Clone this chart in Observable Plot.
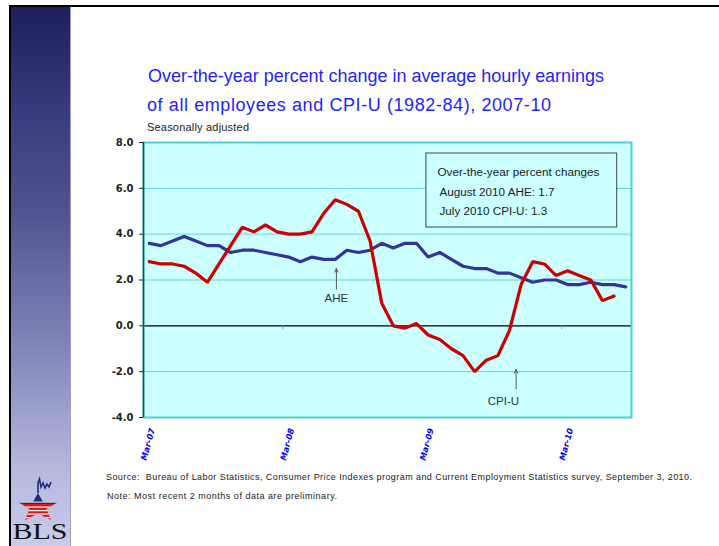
<!DOCTYPE html>
<html>
<head>
<meta charset="utf-8">
<script src="https://cdn.jsdelivr.net/npm/d3@7"></script>
<script src="https://cdn.jsdelivr.net/npm/@observablehq/plot@0.6"></script>
<style>
  html, body { margin: 0; padding: 0; }
  body { width: 719px; height: 546px; position: relative; overflow: hidden; background: #fff; }
  #topline { position: absolute; left: 9px; top: 5px; width: 710px; height: 2px; background: #000; }
  #leftline { position: absolute; left: 9px; top: 5px; width: 2px; height: 541px; background: #000; }
  #panel { position: absolute; left: 11px; top: 7px; width: 59px; height: 539px;
    background: linear-gradient(#1d1e5e 0%, #3a3d7d 20%, #50538f 38%, #8589bd 65%, #b3b7dc 85%, #c9cce9 100%); }
  #panelEdge { position: absolute; left: 70px; top: 7px; width: 1px; height: 539px; background: #9ea2cf; }
  #texts { position: absolute; left: 0; top: 0; }
  #chart { position: absolute; left: 80px; top: 130px; }
  #logo { position: absolute; left: 11px; top: 470px; }
</style>
</head>
<body>
<div id="topline"></div>
<div id="leftline"></div>
<div id="panel"></div>
<div id="panelEdge"></div>
<svg id="logo" width="60" height="76" viewBox="0 0 60 76">
  <defs>
    <clipPath id="starClip"><polygon points="27,23 32,32 47,32 35.5,39 40,50 27,43.5 14,50 18.5,39 7,32 22,32"/></clipPath>
  </defs>
  <g clip-path="url(#starClip)">
    <rect x="0" y="20" width="60" height="14" fill="#1f2a78"/>
    <rect x="0" y="34" width="60" height="20" fill="#d81818"/>
    <rect x="0" y="31.6" width="60" height="1" fill="#fff"/>
    <rect x="0" y="36.5" width="60" height="1.2" fill="#fff"/>
    <rect x="0" y="40" width="60" height="1.2" fill="#fff"/>
    <rect x="0" y="43.5" width="60" height="1.2" fill="#fff"/>
    <rect x="0" y="47" width="60" height="1.2" fill="#fff"/>
  </g>
  <polyline points="27,23 27,13 28.5,9 30,17 32,13 34,18 36,14 38,17 40,12" fill="none" stroke="#1f2a78" stroke-width="1.6"/>
  <text x="29" y="69" text-anchor="middle" font-family="Liberation Serif, DejaVu Serif, serif" font-size="24" fill="#111" textLength="55" lengthAdjust="spacingAndGlyphs">BLS</text>
</svg>
<svg id="texts" width="719" height="546">
  <text x="148" y="82" font-family="Liberation Sans, Arial, sans-serif" font-size="18" fill="#1f1fff" textLength="456" lengthAdjust="spacing">Over-the-year percent change in average hourly earnings</text>
  <text x="147" y="111" font-family="Liberation Sans, Arial, sans-serif" font-size="18" fill="#1f1fff" textLength="404" lengthAdjust="spacing">of all employees and CPI-U (1982-84), 2007-10</text>
  <text x="147" y="131" font-family="Liberation Sans, Arial, sans-serif" font-size="11" fill="#222" textLength="102" lengthAdjust="spacing">Seasonally adjusted</text>
  <text x="106" y="480" font-family="Liberation Sans, Arial, sans-serif" font-size="9" fill="#222" textLength="586" lengthAdjust="spacing" xml:space="preserve">Source:  Bureau of Labor Statistics, Consumer Price Indexes program and Current Employment Statistics survey, September 3, 2010.</text>
  <text x="107" y="499" font-family="Liberation Sans, Arial, sans-serif" font-size="9" fill="#222" textLength="230" lengthAdjust="spacing">Note: Most recent 2 months of data are preliminary.</text>
</svg>
<div id="chart"></div>
<script>
// ---- data ----
const months = [
  "Mar-07","Apr-07","May-07","Jun-07","Jul-07","Aug-07","Sep-07","Oct-07","Nov-07","Dec-07",
  "Jan-08","Feb-08","Mar-08","Apr-08","May-08","Jun-08","Jul-08","Aug-08","Sep-08","Oct-08","Nov-08","Dec-08",
  "Jan-09","Feb-09","Mar-09","Apr-09","May-09","Jun-09","Jul-09","Aug-09","Sep-09","Oct-09","Nov-09","Dec-09",
  "Jan-10","Feb-10","Mar-10","Apr-10","May-10","Jun-10","Jul-10","Aug-10"
];
const ahe = [3.6,3.5,3.7,3.9,3.7,3.5,3.5,3.2,3.3,3.3,3.2,3.1,3.0,2.8,3.0,2.9,2.9,3.3,3.2,3.3,3.6,3.4,3.6,3.6,3.0,3.2,2.9,2.6,2.5,2.5,2.3,2.3,2.1,1.9,2.0,2.0,1.8,1.8,1.9,1.8,1.8,1.7];
const cpi = [2.8,2.7,2.7,2.6,2.3,1.9,2.7,3.5,4.3,4.1,4.4,4.1,4.0,4.0,4.1,4.9,5.5,5.3,5.0,3.7,1.0,0.0,-0.1,0.1,-0.4,-0.6,-1.0,-1.3,-2.0,-1.5,-1.3,-0.2,1.8,2.8,2.7,2.2,2.4,2.2,2.0,1.1,1.3];
const yTicks = [-4,-2,0,2,4,6,8];
const gridValues = [-2,2,6];
const gridLight = [4];
const xTickLabels = ["Mar-07","Mar-08","Mar-09","Mar-10"];
const arrowNotes = [
  {label: "AHE",   x: 16.6,  yTail: 1.6,   yHead: 2.5,  yText: 1.2},
  {label: "CPI-U", x: 32.07, yTail: -2.75, yHead: -1.9, yText: -3.3, xText: 30.98}
];
const boxArea = {x1: 24.35, x2: 40.77, y1: 4.29, y2: 7.52};
const boxLines = [
  {text: "Over-the-year percent changes", x: 25.3, y: 6.69},
  {text: `August 2010 AHE: ${ahe[ahe.length - 1].toFixed(1)}`, x: 25.47, y: 5.82},
  {text: `July 2010 CPI-U: ${cpi[cpi.length - 1].toFixed(1)}`, x: 25.47, y: 5.0}
];

// ---- derived tables ----
const aheRows = ahe.map((v, i) => ({x: i + 0.5, v, month: months[i]}));
const cpiRows = cpi.map((v, i) => ({x: i + 0.5, v, month: months[i]}));
const xLabelRows = xTickLabels.map(l => ({x: months.indexOf(l) + 0.5, b: months.indexOf(l), label: l}));

const chart = Plot.plot({
  width: 580,
  height: 340,
  marginLeft: 63,
  marginTop: 12,
  marginRight: 29,
  marginBottom: 53,
  style: {background: "transparent", fontFamily: "Liberation Sans, Arial, sans-serif", overflow: "visible"},
  x: {type: "linear", domain: [0, months.length], axis: null},
  y: {domain: [-4, 8], axis: null},
  marks: [
    Plot.frame({fill: "#ccffff", stroke: "none"}),
    Plot.ruleY(gridValues, {stroke: "#5ed6d6", strokeWidth: 1}),
    Plot.ruleY(gridLight, {stroke: "#9be6ea", strokeWidth: 2}),
    Plot.ruleY([0], {stroke: "#000", strokeWidth: 1.2}),
    Plot.ruleX(xLabelRows.filter(d => d.b > 0), {x: "b", y1: 0, y2: -0.15, stroke: "#888", strokeWidth: 1}),
    Plot.lineY(aheRows, {x: "x", y: "v", stroke: "#333399", strokeWidth: 3.2, strokeLinejoin: "miter"}),
    Plot.lineY(cpiRows, {x: "x", y: "v", stroke: "#cc0000", strokeWidth: 3.2, strokeLinejoin: "miter"}),
    Plot.frame({stroke: "#4fd1d1", strokeWidth: 2}),
    Plot.ruleX([0], {stroke: "#1a4d4d", strokeWidth: 1.5}),
    Plot.axisY({ticks: yTicks, tickFormat: d => d.toFixed(1), tickSize: 4, tickPadding: 6,
      fontFamily: "DejaVu Sans, Verdana, sans-serif", fontWeight: "bold", fontSize: 10, color: "#222", label: null}),
    Plot.text(xLabelRows, {x: "x", y: () => -4, text: "label", rotate: -75, textAnchor: "end", dx: 3, dy: 11,
      fill: "#0000ee", fontWeight: "bold", fontStyle: "italic", fontSize: 8.3, fontFamily: "DejaVu Sans, Verdana, sans-serif"}),
    Plot.arrow(arrowNotes, {x1: "x", x2: "x", y1: "yTail", y2: "yHead", stroke: "#555", strokeWidth: 1, headLength: 6, headAngle: 50}),
    Plot.text(arrowNotes, {x: d => d.xText ?? d.x, y: "yText", text: "label", fill: "#333", fontSize: 11.5}),
    Plot.rect([boxArea], {x1: "x1", x2: "x2", y1: "y1", y2: "y2", fill: "#ccffff", stroke: "#444", strokeWidth: 1}),
    Plot.text(boxLines, {x: "x", y: "y", text: "text", textAnchor: "start", fill: "#222", fontSize: 11.7})
  ]
});
document.getElementById("chart").appendChild(chart);
</script>
</body>
</html>
